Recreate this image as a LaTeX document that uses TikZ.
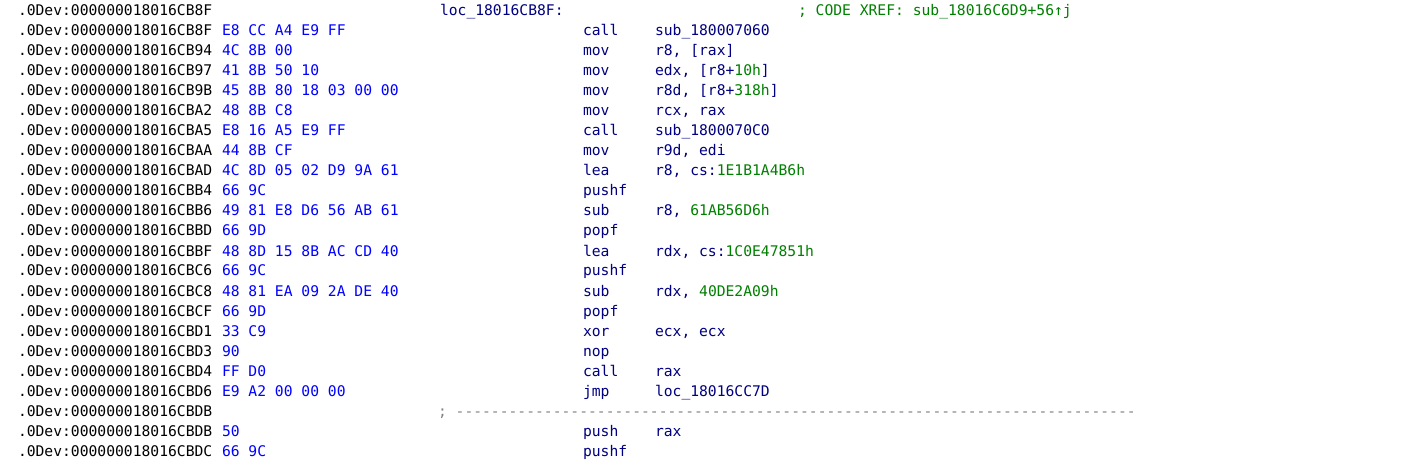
\documentclass[tikz,border=0pt]{standalone}
\usepackage{fontspec}
\setmonofont{DejaVu Sans Mono}
\definecolor{idablue}{HTML}{0000FF}
\definecolor{idanavy}{HTML}{000080}
\definecolor{idagreen}{HTML}{008000}
\definecolor{idagray}{HTML}{808080}
\newcommand\idafont{\ttfamily\fontsize{14.67}{20}\selectfont\frenchspacing}
\newcommand\num[1]{\textcolor{idagreen}{#1}}
\tikzset{
  txt/.style={anchor=base west, inner sep=0pt, outer sep=0pt, font=\idafont},
  addr/.style={txt, text=black},
  hexb/.style={txt, text=idablue},
  ins/.style={txt, text=idanavy},
  cmt/.style={txt, text=idagreen},
  sepline/.style={txt, text=idagray},
}
% row with address only
\newcommand\addrrow[2]{%
  \node[addr] (a#1) at (18,{16+20*(#1-1)}) {.0Dev:#2};}
% full instruction row
\newcommand\insrow[5]{%
  \node[addr] (a#1) at (18,{16+20*(#1-1)}) {.0Dev:#2};
  \node[hexb] (b#1) at (222,{16+20*(#1-1)}) {#3};
  \node[ins]  (m#1) at (583,{16+20*(#1-1)}) {#4};
  \node[ins]  (o#1) at (655,{16+20*(#1-1)}) {#5};}
\newcommand\insrowno[4]{%
  \node[addr] (a#1) at (18,{16+20*(#1-1)}) {.0Dev:#2};
  \node[hexb] (b#1) at (222,{16+20*(#1-1)}) {#3};
  \node[ins]  (m#1) at (583,{16+20*(#1-1)}) {#4};}
\begin{document}
\begin{tikzpicture}[x=1pt,y=-1pt]
\fill[white] (0,0) rectangle (1423,462);
\useasboundingbox (0,0) rectangle (1423,462);

\addrrow{1}{000000018016CB8F}
\node[ins] (lbl) at (440,16) {loc\_18016CB8F:};
\node[cmt] (xref) at (798,16) {; CODE XREF: sub\_18016C6D9+56↑j};

\insrow{2}{000000018016CB8F}{E8 CC A4 E9 FF}{call}{sub\_180007060}
\insrow{3}{000000018016CB94}{4C 8B 00}{mov}{r8, [rax]}
\insrow{4}{000000018016CB97}{41 8B 50 10}{mov}{edx, [r8+\num{10h}]}
\insrow{5}{000000018016CB9B}{45 8B 80 18 03 00 00}{mov}{r8d, [r8+\num{318h}]}
\insrow{6}{000000018016CBA2}{48 8B C8}{mov}{rcx, rax}
\insrow{7}{000000018016CBA5}{E8 16 A5 E9 FF}{call}{sub\_1800070C0}
\insrow{8}{000000018016CBAA}{44 8B CF}{mov}{r9d, edi}
\insrow{9}{000000018016CBAD}{4C 8D 05 02 D9 9A 61}{lea}{r8, cs:\num{1E1B1A4B6h}}
\insrowno{10}{000000018016CBB4}{66 9C}{pushf}
\insrow{11}{000000018016CBB6}{49 81 E8 D6 56 AB 61}{sub}{r8, \num{61AB56D6h}}
\insrowno{12}{000000018016CBBD}{66 9D}{popf}
\insrow{13}{000000018016CBBF}{48 8D 15 8B AC CD 40}{lea}{rdx, cs:\num{1C0E47851h}}
\insrowno{14}{000000018016CBC6}{66 9C}{pushf}
\insrow{15}{000000018016CBC8}{48 81 EA 09 2A DE 40}{sub}{rdx, \num{40DE2A09h}}
\insrowno{16}{000000018016CBCF}{66 9D}{popf}
\insrow{17}{000000018016CBD1}{33 C9}{xor}{ecx, ecx}
\insrowno{18}{000000018016CBD3}{90}{nop}
\insrow{19}{000000018016CBD4}{FF D0}{call}{rax}
\insrow{20}{000000018016CBD6}{E9 A2 00 00 00}{jmp}{loc\_18016CC7D}
\addrrow{21}{000000018016CBDB}
\node[sepline] (sep) at (438,416) {; -----------------------------------------------------------------------------};
\insrow{22}{000000018016CBDB}{50}{push}{rax}
\insrowno{23}{000000018016CBDC}{66 9C}{pushf}
\end{tikzpicture}
\end{document}
